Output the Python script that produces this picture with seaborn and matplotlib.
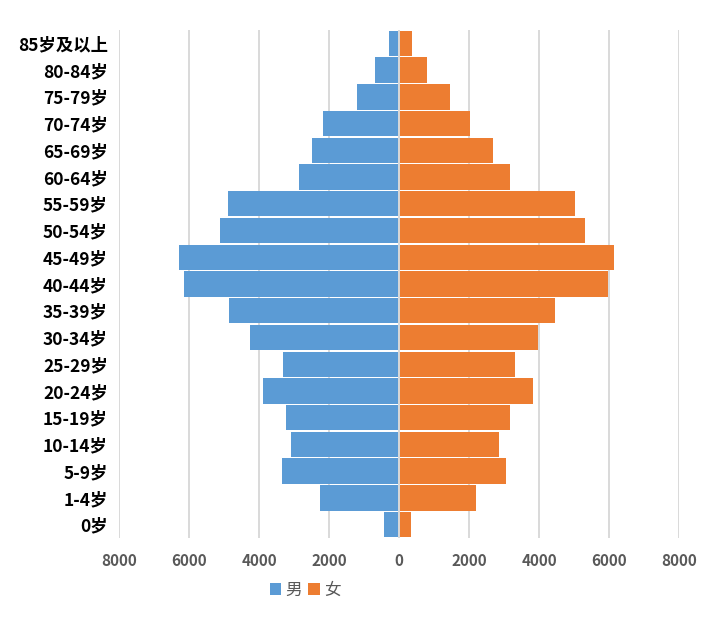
import matplotlib
matplotlib.use("Agg")
import matplotlib.pyplot as plt
import seaborn as sns
import pandas as pd
from matplotlib.ticker import FuncFormatter
from matplotlib.patches import Patch

ages = ['85岁及以上', '80-84岁', '75-79岁', '70-74岁', '65-69岁', '60-64岁',
        '55-59岁', '50-54岁', '45-49岁', '40-44岁', '35-39岁', '30-34岁',
        '25-29岁', '20-24岁', '15-19岁', '10-14岁', '5-9岁', '1-4岁', '0岁']
male = [286, 686, 1200, 2171, 2486, 2857, 4886, 5114, 6286, 6143,
        4857, 4257, 3314, 3886, 3229, 3086, 3343, 2257, 429]
female = [371, 800, 1457, 2029, 2686, 3171, 5029, 5314, 6143, 5971,
          4457, 3971, 3314, 3829, 3171, 2857, 3057, 2200, 343]
series = ['男', '女']
x_ticks = [-8000, -6000, -4000, -2000, 0, 2000, 4000, 6000, 8000]
colors = {'男': '#5B9BD5', '女': '#ED7D31'}

sns.set_theme(style="white")
plt.rcParams['font.family'] = ['Noto Sans CJK SC', 'DejaVu Sans']

df = pd.DataFrame({
    'age': ages * 2,
    'sex': [series[0]] * len(ages) + [series[1]] * len(ages),
    'value': [-v for v in male] + female,
})

fig = plt.figure(figsize=(7.1, 6.22), dpi=100)
ax = fig.add_axes([119/710, 1 - 538/622, (679-119)/710, (538-30)/622])

sns.barplot(data=df, y='age', x='value', hue='sex', order=ages,
            hue_order=series, palette=colors, dodge=False, width=0.95,
            orient='h', linewidth=0, saturation=1, ax=ax, legend=False)

ax.set_xlim(-8000, 8000)
ax.set_ylim(len(ages) - 0.5, -0.5)
ax.set_xticks(x_ticks)
ax.xaxis.set_major_formatter(FuncFormatter(lambda v, p: f"{abs(int(v))}"))
ax.set_xlabel('')
ax.set_ylabel('')
ax.grid(axis='x', color='#d9d9d9', linewidth=1.4)
ax.grid(axis='y', visible=False)
ax.set_axisbelow(True)
ax.axvline(0, color='#d9d9d9', linewidth=1.4, zorder=3)
for s in ax.spines.values():
    s.set_visible(False)
ax.tick_params(axis='both', length=0)
ax.tick_params(axis='x', pad=11, labelsize=11, labelcolor='#595959')
ax.tick_params(axis='y', pad=8, labelsize=12.5, labelcolor='black')
for t in ax.get_xticklabels():
    t.set_fontweight('bold')
for t in ax.get_yticklabels():
    t.set_fontweight('bold')

handles = [Patch(facecolor=colors[s], edgecolor='none', label=s) for s in series]
fig.legend(handles=handles, loc='center', bbox_to_anchor=(305/710, 1 - 590/622),
           ncol=2, frameon=False, handlelength=0.7, handleheight=0.7,
           handletextpad=0.25, columnspacing=0.35,
           prop={'size': 12, 'weight': 'light'}, labelcolor='#595959')

fig.savefig('out.png', dpi=100)
